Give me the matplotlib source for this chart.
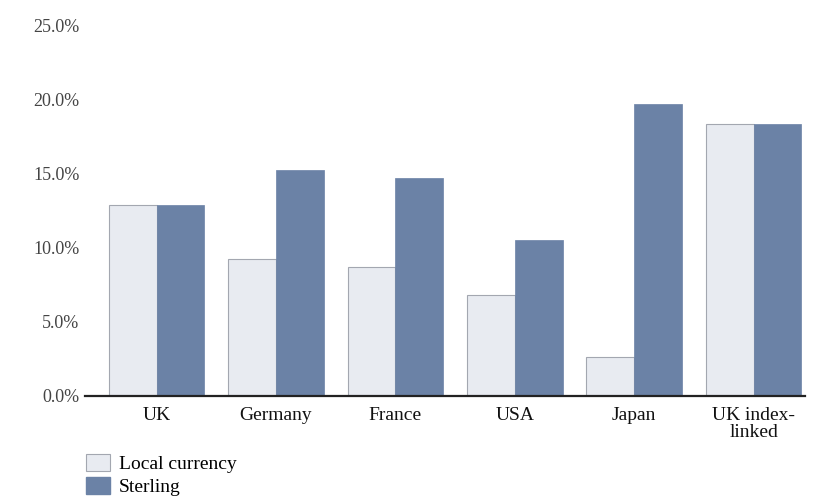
import matplotlib.pyplot as plt
import matplotlib.patches as mpatches
import numpy as np

categories = ["UK", "Germany", "France", "USA", "Japan", "UK index-\nlinked"]
local_currency = [12.9, 9.2, 8.7, 6.8, 2.6, 18.3]
sterling = [12.9, 15.2, 14.7, 10.5, 19.7, 18.3]
yticks = [0, 5, 10, 15, 20, 25]

light = "#e8ebf1"
light_edge = "#a3a7b0"
blue = "#6b82a6"

plt.rcParams['font.family'] = ['Liberation Serif', 'DejaVu Serif']

fig = plt.figure(figsize=(8.17, 5.01), dpi=100)
ax = fig.add_axes([85 / 817, 105 / 501, 720 / 817, 371 / 501])

x = np.arange(len(categories))
w = 0.4
ax.bar(x - w / 2, local_currency, w, color=light, edgecolor=light_edge, linewidth=0.8)
ax.bar(x + w / 2, sterling, w, color=blue, edgecolor=blue, linewidth=0.5)

ax.set_xlim(-0.60, 5.43)
ax.set_ylim(0, 25)
ax.set_yticks(yticks)
ax.set_yticklabels([f"{v:.1f}%" for v in yticks], fontsize=13, color="#444444")
ax.set_xticks(x)
ax.set_xticklabels(categories, fontsize=14, color="#111111", linespacing=1.0)
ax.tick_params(axis='both', length=0)
ax.tick_params(axis='x', pad=8)
ax.tick_params(axis='y', pad=4)

for s in ["top", "right", "left"]:
    ax.spines[s].set_visible(False)
ax.spines["bottom"].set_linewidth(1.6)
ax.spines["bottom"].set_color("#222222")

handles = [
    mpatches.Patch(facecolor=light, edgecolor=light_edge, linewidth=0.8, label="Local currency"),
    mpatches.Patch(facecolor=blue, edgecolor=blue, label="Sterling"),
]
fig.legend(handles=handles, loc="upper left", bbox_to_anchor=(72 / 817, 1 - 440 / 501),
           frameon=False, fontsize=14, handlelength=1.25, handleheight=1.0,
           handletextpad=0.45, labelspacing=0.2, borderpad=0.2)

plt.savefig("out.png", dpi=100)
